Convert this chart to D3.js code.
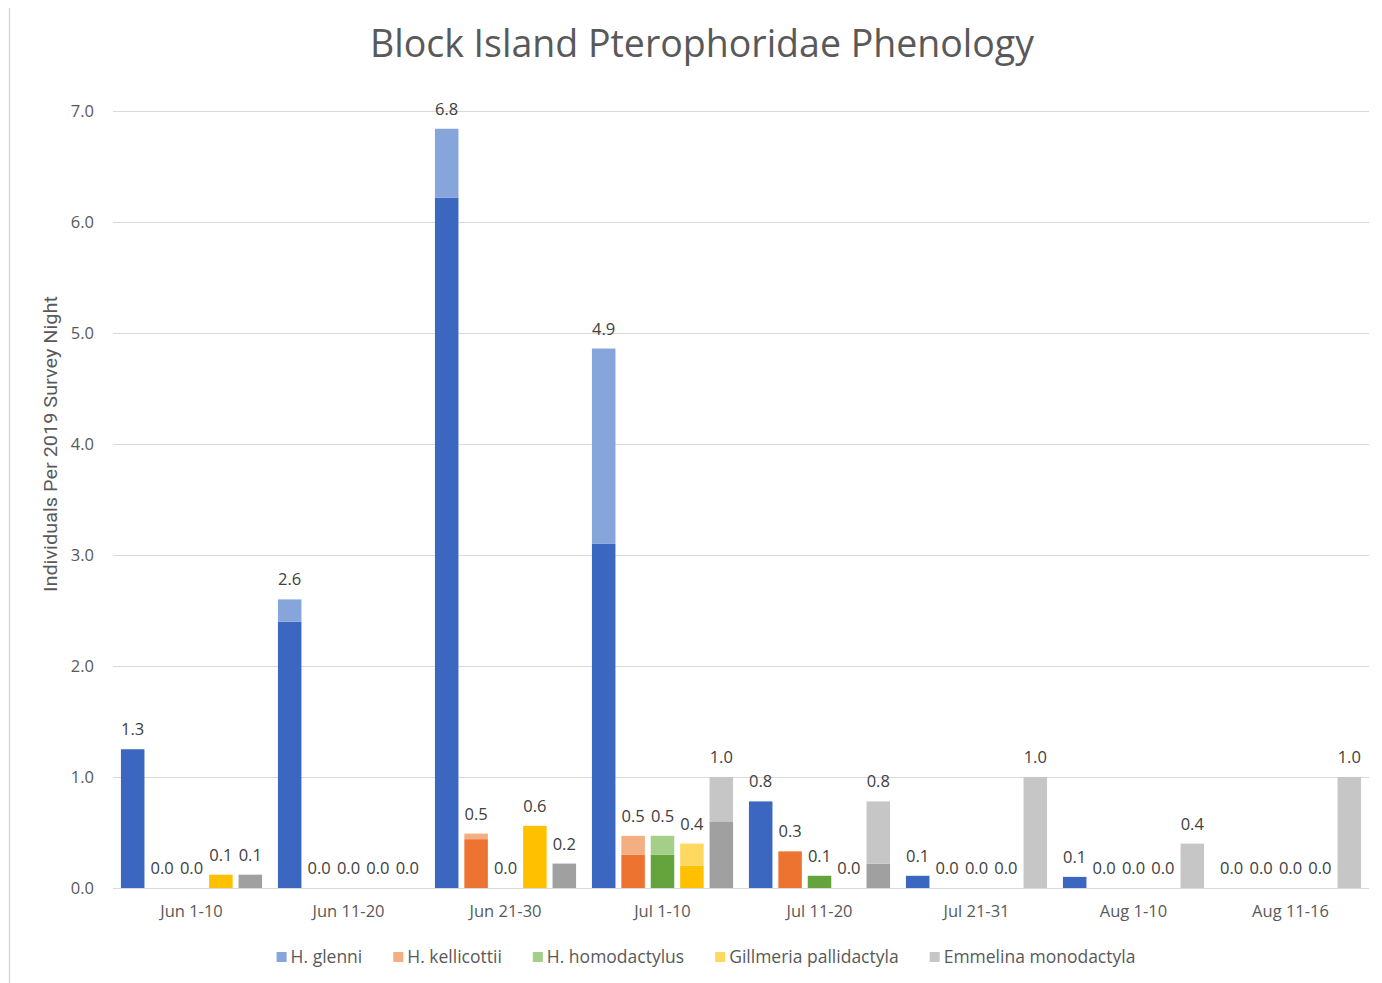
<!DOCTYPE html>
<html>
<head>
<meta charset="utf-8">
<script src="https://cdn.jsdelivr.net/npm/d3@7"></script>
<style>
  html, body { margin: 0; padding: 0; background: #fff; }
  svg { display: block; font-family: "Open Sans", sans-serif; }
</style>
</head>
<body>
<svg id="chart" width="1382" height="983"></svg>
<script>
// Survey periods
const periods = ["Jun 1-10", "Jun 11-20", "Jun 21-30", "Jul 1-10", "Jul 11-20", "Jul 21-31", "Aug 1-10", "Aug 11-16"];

// Species shown in the legend
const species = ["H. glenni", "H. kellicottii", "H. homodactylus", "Gillmeria pallidactyla", "Emmelina monodactyla"];

// Lower (solid) and upper (pale) portion of each species' bar, per period
const glenniLower       = [1.25, 2.40, 6.22, 3.10, 0.78, 0.11, 0.10, 0.00];
const glenniUpper       = [0.00, 0.20, 0.62, 1.76, 0.00, 0.00, 0.00, 0.00];
const kellicottiiLower  = [0.00, 0.00, 0.44, 0.30, 0.33, 0.00, 0.00, 0.00];
const kellicottiiUpper  = [0.00, 0.00, 0.05, 0.17, 0.00, 0.00, 0.00, 0.00];
const homodactylusLower = [0.00, 0.00, 0.00, 0.30, 0.11, 0.00, 0.00, 0.00];
const homodactylusUpper = [0.00, 0.00, 0.00, 0.17, 0.00, 0.00, 0.00, 0.00];
const gillmeriaLower    = [0.12, 0.00, 0.56, 0.20, 0.00, 0.00, 0.00, 0.00];
const gillmeriaUpper    = [0.00, 0.00, 0.00, 0.20, 0.00, 0.00, 0.00, 0.00];
const emmelinaLower     = [0.12, 0.00, 0.22, 0.60, 0.22, 0.00, 0.00, 0.00];
const emmelinaUpper     = [0.00, 0.00, 0.00, 0.40, 0.56, 1.00, 0.40, 1.00];

// Y axis ticks
const yTicks = [0, 1, 2, 3, 4, 5, 6, 7];

const lowerSeries = [glenniLower, kellicottiiLower, homodactylusLower, gillmeriaLower, emmelinaLower];
const upperSeries = [glenniUpper, kellicottiiUpper, homodactylusUpper, gillmeriaUpper, emmelinaUpper];

const solidColors = ["#3B67C0", "#ED7430", "#65A43D", "#FFC000", "#A0A0A0"];
const paleColors  = ["#86A5DA", "#F3AE82", "#A3CF88", "#FFD85F", "#C6C6C6"];

const svg = d3.select("#chart");
const margin = { left: 113, right: 13, top: 111, bottom: 95 };
const W = 1382, H = 983;
const plotBottom = H - margin.bottom; // 888

// Frame edge on the left
svg.append("line")
  .attr("x1", 9.5).attr("x2", 9.5).attr("y1", 8).attr("y2", H)
  .attr("stroke", "#d9d9d9").attr("stroke-width", 1.5);

const x0 = d3.scaleBand().domain(periods).range([margin.left, W - margin.right]).paddingInner(0).paddingOuter(0);
const x1 = d3.scaleBand().domain(d3.range(species.length)).range([0, x0.bandwidth()])
  .paddingInner(0.2).paddingOuter(0.27);
const y = d3.scaleLinear().domain([0, 7]).range([plotBottom, margin.top]);

// Gridlines
svg.append("g").selectAll("line").data(yTicks).join("line")
  .attr("x1", margin.left).attr("x2", W - margin.right)
  .attr("y1", d => Math.round(y(d)) + 0.5).attr("y2", d => Math.round(y(d)) + 0.5)
  .attr("stroke", "#d9d9d9").attr("stroke-width", 1.2);

// Y axis labels
const yAxis = d3.axisLeft(y).tickValues(yTicks).tickFormat(d3.format(".1f")).tickSize(0).tickPadding(19);
const yg = svg.append("g").attr("transform", `translate(${margin.left},0)`).call(yAxis);
yg.select(".domain").remove();
yg.selectAll("text").attr("fill", "#595959").style("font-size", "16.5px").style("font-family", "Open Sans, sans-serif");

// X axis labels
const xAxis = d3.axisBottom(x0).tickSize(0).tickPadding(17);
const xg = svg.append("g").attr("transform", `translate(0,${plotBottom})`).call(xAxis);
xg.select(".domain").remove();
xg.selectAll("text").attr("fill", "#595959").style("font-size", "16.5px").style("font-family", "Open Sans, sans-serif");

// Bars
const cells = [];
periods.forEach((p, pi) => {
  species.forEach((s, si) => {
    const lo = lowerSeries[si][pi], up = upperSeries[si][pi];
    cells.push({ p, si, lo, up, total: lo + up });
  });
});

const bars = svg.append("g");
bars.selectAll("rect.lower").data(cells.filter(d => d.lo > 0)).join("rect")
  .attr("class", "lower")
  .attr("x", d => x0(d.p) + x1(d.si))
  .attr("width", x1.bandwidth())
  .attr("y", d => y(d.lo))
  .attr("height", d => y(0) - y(d.lo))
  .attr("fill", d => solidColors[d.si]);

bars.selectAll("rect.upper").data(cells.filter(d => d.up > 0)).join("rect")
  .attr("class", "upper")
  .attr("x", d => x0(d.p) + x1(d.si))
  .attr("width", x1.bandwidth())
  .attr("y", d => y(d.total))
  .attr("height", d => y(d.lo) - y(d.total))
  .attr("fill", d => paleColors[d.si]);

// Value labels (totals)
svg.append("g").selectAll("text").data(cells).join("text")
  .attr("x", d => x0(d.p) + x1(d.si) + x1.bandwidth() / 2)
  .attr("y", d => y(d.total) - 14)
  .attr("text-anchor", "middle")
  .attr("fill", "#404040")
  .style("font-size", "16.5px")
  .text(d => d.total.toFixed(1));

// Title
svg.append("text")
  .attr("x", 702).attr("y", 57)
  .attr("text-anchor", "middle")
  .attr("fill", "#595959")
  .style("font-size", "37.5px")
  .text("Block Island Pterophoridae Phenology");

// Y axis title
svg.append("text")
  .attr("transform", `translate(57,${(296 + 592) / 2}) rotate(-90)`)
  .attr("text-anchor", "middle")
  .attr("fill", "#595959")
  .style("font-size", "18.5px")
  .style("font-family", "Roboto, sans-serif")
  .attr("textLength", 296)
  .attr("lengthAdjust", "spacingAndGlyphs")
  .text("Individuals Per 2019 Survey Night");

// Legend
const legend = svg.append("g");
const items = legend.selectAll("g").data(species).join("g");
items.append("rect").attr("width", 10).attr("height", 10).attr("y", -11)
  .attr("fill", (d, i) => paleColors[i]);
items.append("text").attr("x", 14).attr("y", 0)
  .attr("fill", "#595959").style("font-size", "17.5px").text(d => d);
let lx = 0;
const offsets = [];
items.each(function () {
  offsets.push(lx);
  lx += this.getBBox().width + 31;
});
lx -= 31;
const startX = 706 - lx / 2;
items.attr("transform", (d, i) => `translate(${startX + offsets[i]},963)`);
</script>
</body>
</html>
